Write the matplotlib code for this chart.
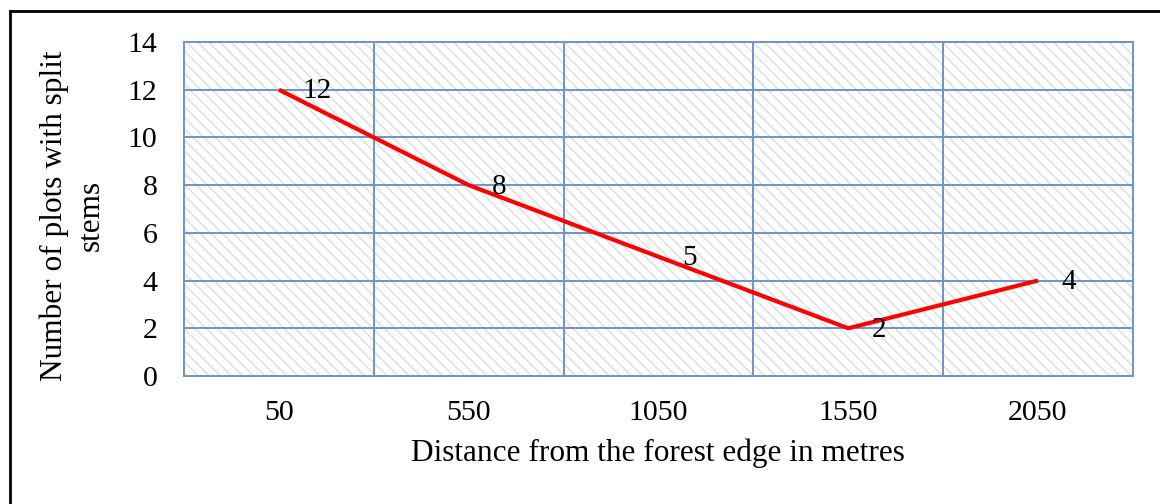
import matplotlib.pyplot as plt
from matplotlib.patches import Rectangle
from matplotlib.lines import Line2D

distances = ['50', '550', '1050', '1550', '2050']
split_stems = [12, 8, 5, 2, 4]
y_ticks = [0, 2, 4, 6, 8, 10, 12, 14]

plt.rcParams['font.family'] = ['Liberation Serif', 'DejaVu Serif']
plt.rcParams['hatch.linewidth'] = 1.0

grid_color = '#6f94cb'
hatch_color = '#dddddd'

fig = plt.figure(figsize=(11.6, 5.04), dpi=100)
ax = fig.add_axes([0.1586, 0.254, 0.818, 0.6627])

x = list(range(len(distances)))

# hatched plot background
ax.add_patch(Rectangle((0, 0), 1, 1, transform=ax.transAxes, facecolor='white',
                       edgecolor=hatch_color, linewidth=0, hatch='\\\\\\', zorder=0))

ax.plot(x, split_stems, color='#ff0000', linewidth=3, zorder=3, solid_capstyle='butt')
for xi, v in zip(x, split_stems):
    ax.annotate(str(v), (xi, v), xytext=(17, -1), textcoords='offset points',
                ha='left', va='center', fontsize=21, zorder=4)

ax.set_xlim(-0.5, len(distances) - 0.5)
ax.set_ylim(0, 14)
ax.set_yticks(y_ticks)
ax.set_xticks(x)
ax.set_xticklabels(distances)

# category boundaries and value gridlines
for b in [i + 0.5 for i in x[:-1]]:
    ax.axvline(b, color=grid_color, linewidth=1.4, zorder=1)
for t in y_ticks[1:]:
    ax.axhline(t, color=grid_color, linewidth=1.4, zorder=1)
for s in ax.spines.values():
    s.set_color(grid_color)
    s.set_linewidth(1.4)

ax.tick_params(axis='both', length=0, labelsize=21.5)
ax.tick_params(axis='y', pad=19)
ax.tick_params(axis='x', pad=17)

ax.set_xlabel('Distance from the forest edge in metres', fontsize=22.5, labelpad=9)
ax.set_ylabel('Number of plots with split\nstems', fontsize=22.5, linespacing=1.35)
ax.yaxis.set_label_coords(-0.082, 0.48)

# outer frame
fig.add_artist(Line2D([10 / 1160, 10 / 1160], [0, 1 - 11 / 504], transform=fig.transFigure,
                      color='black', linewidth=2))
fig.add_artist(Line2D([10 / 1160, 1], [1 - 11 / 504, 1 - 11 / 504], transform=fig.transFigure,
                      color='black', linewidth=2))

fig.savefig('out.png', dpi=100)
